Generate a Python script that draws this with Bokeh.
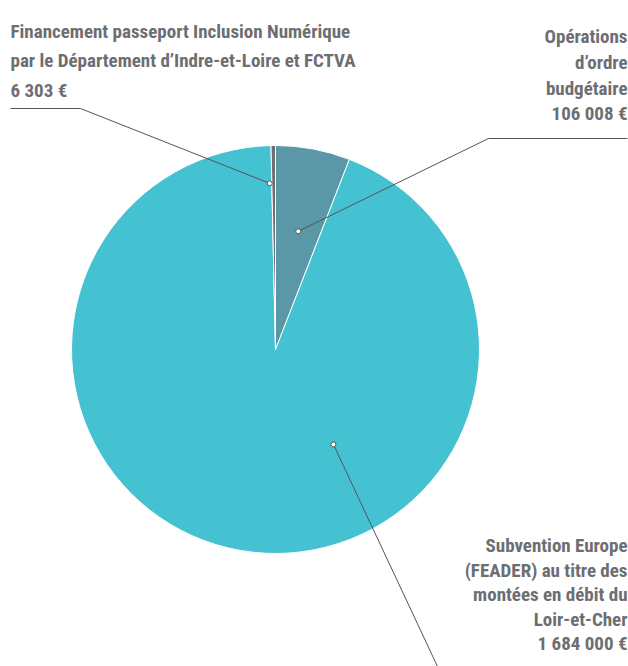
import math
from bokeh.plotting import figure
from bokeh.models import Range1d
from bokeh.core.properties import value
from bokeh.embed import file_html
from bokeh.resources import INLINE

# ---- data ----
categories = ["Opérations d’ordre budgétaire",
              "Subvention Europe (FEADER)",
              "Financement passeport Inclusion Numérique"]
values = [106008, 1684000, 6303]
colors = ["#5a97a7", "#44c2d2", "#6f6f6f"]
label_lines = [
    ["Opérations", "d’ordre", "budgétaire", "106 008 €"],
    ["Subvention Europe", "(FEADER) au titre des", "montées en débit du",
     "Loir-et-Cher", "1 684 000 €"],
    ["Financement passeport Inclusion Numérique",
     "par le Département d’Indre-et-Loire et FCTVA", "6 303 €"],
]

# ---- layout (figure pixels -> data space, pie radius = 1) ----
W, H = 628, 666
CX, CY, R = 275.0, 349.0, 204.0


def P(x, y):
    return (x - CX) / R, (CY - y) / R


total = float(sum(values))
starts, ends = [], []
acc = 0.0
for v in values:
    a0 = acc / total * 2 * math.pi
    acc += v
    a1 = acc / total * 2 * math.pi
    starts.append(math.pi / 2 - a0)
    ends.append(math.pi / 2 - a1)

x0, _ = P(0, 0)
x1, _ = P(W, 0)
_, y0 = P(0, H)
_, y1 = P(0, 0)
p = figure(width=W, height=H, output_backend="svg", toolbar_location=None,
           x_range=Range1d(x0, x1), y_range=Range1d(y0, y1), min_border=0)
p.axis.visible = False
p.grid.visible = False
p.outline_line_color = None
p.background_fill_color = "white"
p.border_fill_color = "white"

p.wedge(x=[0] * len(values), y=[0] * len(values), radius=1,
        start_angle=starts, end_angle=ends, direction="clock",
        fill_color=colors, line_color="white", line_width=1)

# leader lines: dot inside each slice (angle cw from top in degrees, radius fraction)
dot_pos = [(10.9, 0.59), (148.6, 0.545), (-2.0, 0.815)]
dots = []
for ang, fr in dot_pos:
    t = math.radians(ang)
    dots.append((fr * math.sin(t), fr * math.cos(t)))

line_color = "#555555"
elbows = [
    [P(488, 138), P(627, 138)],
    [P(437, 666), P(450, 700)],
    [P(80, 108), P(10, 108)],
]
for (dx, dy), pts in zip(dots, elbows):
    xs = [dx] + [q[0] for q in pts]
    ys = [dy] + [q[1] for q in pts]
    p.line(xs, ys, line_color=line_color, line_width=1)

p.scatter([d[0] for d in dots], [d[1] for d in dots], marker="circle", size=5,
          fill_color="white", line_color=line_color, line_width=1)

# labels: (anchor x, first baseline y, line spacing, alignment) in figure px
font = value("Roboto Condensed")
tcol = "#6d6e71"
lab_layout = [(627, 36, 25.8, "right"), (627, 545, 24.5, "right"), (10, 31, 29.3, "left")]
for lines, (ax, by, sp, al) in zip(label_lines, lab_layout):
    xs, ys = [], []
    for i in range(len(lines)):
        px_, py_ = P(ax, by + i * sp)
        xs.append(px_)
        ys.append(py_)
    p.text(x=xs, y=ys, text=lines, text_font=font, text_font_size="19px",
           text_font_style="bold", text_color=tcol, text_align=al,
           text_baseline="alphabetic")

open("out.html", "w").write(file_html(p, INLINE))
